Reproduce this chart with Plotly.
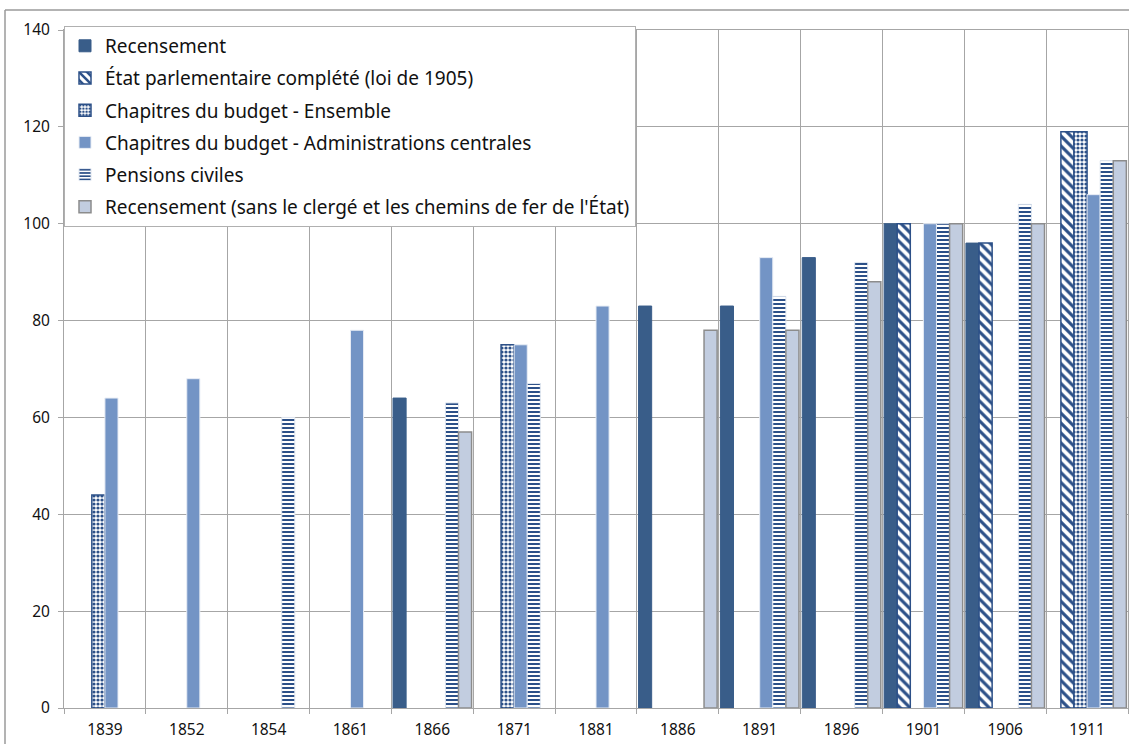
import plotly.graph_objects as go

# ── données ───────────────────────────────────────────────────────────────────
annees = ["1839", "1852", "1854", "1861", "1866", "1871", "1881",
          "1886", "1891", "1896", "1901", "1906", "1911"]

recensement = [None, None, None, None, 64, None, None, 83, 83, 93, 100, 96, None]
etat_parlementaire = [None, None, None, None, None, None, None, None, None, None, 100, 96, 119]
budget_ensemble = [44, None, None, None, None, 75, None, None, None, None, None, None, 119]
budget_admin = [64, 68, None, 78, None, 75, 83, None, 93, None, 100, None, 106]
pensions_civiles = [None, None, 60, None, 63, 67, None, None, 85, 92, 100, 104, 113]
recensement_sans = [None, None, None, None, 57, None, None, 78, 78, 88, 100, 100, 113]

BLEU_FONCE = "#395d89"
BLEU_MOTIF = "#2c5088"
BLEU_MOYEN = "#7394c5"
BLEU_CLAIR = "#c2cde0"
GRILLE = "#a6a6a6"

fig = go.Figure()

series = [
    ("Recensement", recensement, dict(color=BLEU_FONCE, line=dict(color=BLEU_FONCE, width=1))),
    ("État parlementaire complété (loi de 1905)", etat_parlementaire,
     dict(color=BLEU_MOTIF, line=dict(color=BLEU_MOTIF, width=1.5),
          pattern=dict(shape="\\", fgcolor=BLEU_MOTIF, bgcolor="white",
                       fillmode="replace", size=7, solidity=0.45))),
    ("Chapitres du budget - Ensemble", budget_ensemble,
     dict(color=BLEU_MOTIF, line=dict(color=BLEU_MOTIF, width=1.5),
          pattern=dict(shape=".", fgcolor=BLEU_MOTIF, bgcolor="white",
                       fillmode="replace", size=4, solidity=0.5))),
    ("Chapitres du budget - Administrations centrales", budget_admin,
     dict(color=BLEU_MOYEN, line=dict(color="#e8edf5", width=1))),
    ("Pensions civiles", pensions_civiles,
     dict(color=BLEU_MOTIF, line=dict(color="#dfe6f0", width=1),
          pattern=dict(shape="-", fgcolor=BLEU_MOTIF, bgcolor="white",
                       fillmode="replace", size=4, solidity=0.5))),
    ("Recensement (sans le clergé et les chemins de fer de l'État)", recensement_sans,
     dict(color=BLEU_CLAIR, line=dict(color="#8c8c8c", width=1.5))),
]

for i, (nom, valeurs, marqueur) in enumerate(series):
    fig.add_trace(go.Bar(x=annees, y=valeurs, name=nom, marker=marqueur,
                         legendgroup=f"g{i}"))

# cadre extérieur du graphique (style Excel)
fig.add_shape(type="line", xref="paper", yref="paper",
              x0=-59 / 1064, x1=1.01, y0=1 + 20 / 678, y1=1 + 20 / 678,
              line=dict(color="#9a9a9a", width=1.5))
fig.add_shape(type="line", xref="paper", yref="paper",
              x0=-59 / 1064, x1=-59 / 1064, y0=-0.06, y1=1 + 20 / 678,
              line=dict(color="#9a9a9a", width=1.5))

fig.update_layout(
    width=1129, height=744,
    margin=dict(l=64, r=1, t=30, b=36),
    barmode="group", bargap=0.04, bargroupgap=0,
    plot_bgcolor="white", paper_bgcolor="white",
    font=dict(family="Noto Sans", size=15, color="#111111"),
    legend=dict(x=0, y=1.006, xanchor="left", yanchor="top",
                bgcolor="white", bordercolor="#b0b0b0", borderwidth=1,
                font=dict(size=19, color="#111111"),
                traceorder="grouped", tracegroupgap=4.5),
    xaxis=dict(type="category", tickson="boundaries", showgrid=True,
               gridcolor=GRILLE, gridwidth=1, ticks="outside", ticklen=5,
               tickcolor=GRILLE, showline=True, linecolor=GRILLE, mirror=True,
               ticklabelstandoff=7,
               tickfont=dict(size=15.5, color="#111111")),
    yaxis=dict(range=[0, 140], dtick=20, showgrid=True, gridcolor=GRILLE,
               gridwidth=1, ticks="outside", ticklen=5, tickcolor=GRILLE,
               showline=True, linecolor=GRILLE, mirror=True, zeroline=False,
               ticklabelstandoff=5,
               tickfont=dict(size=15.5, color="#111111")),
)

# la page a une marge de 8 px par défaut : on la supprime
fig.write_html("out.html", config={"displayModeBar": False},
               post_script="document.body.style.margin='0';")
